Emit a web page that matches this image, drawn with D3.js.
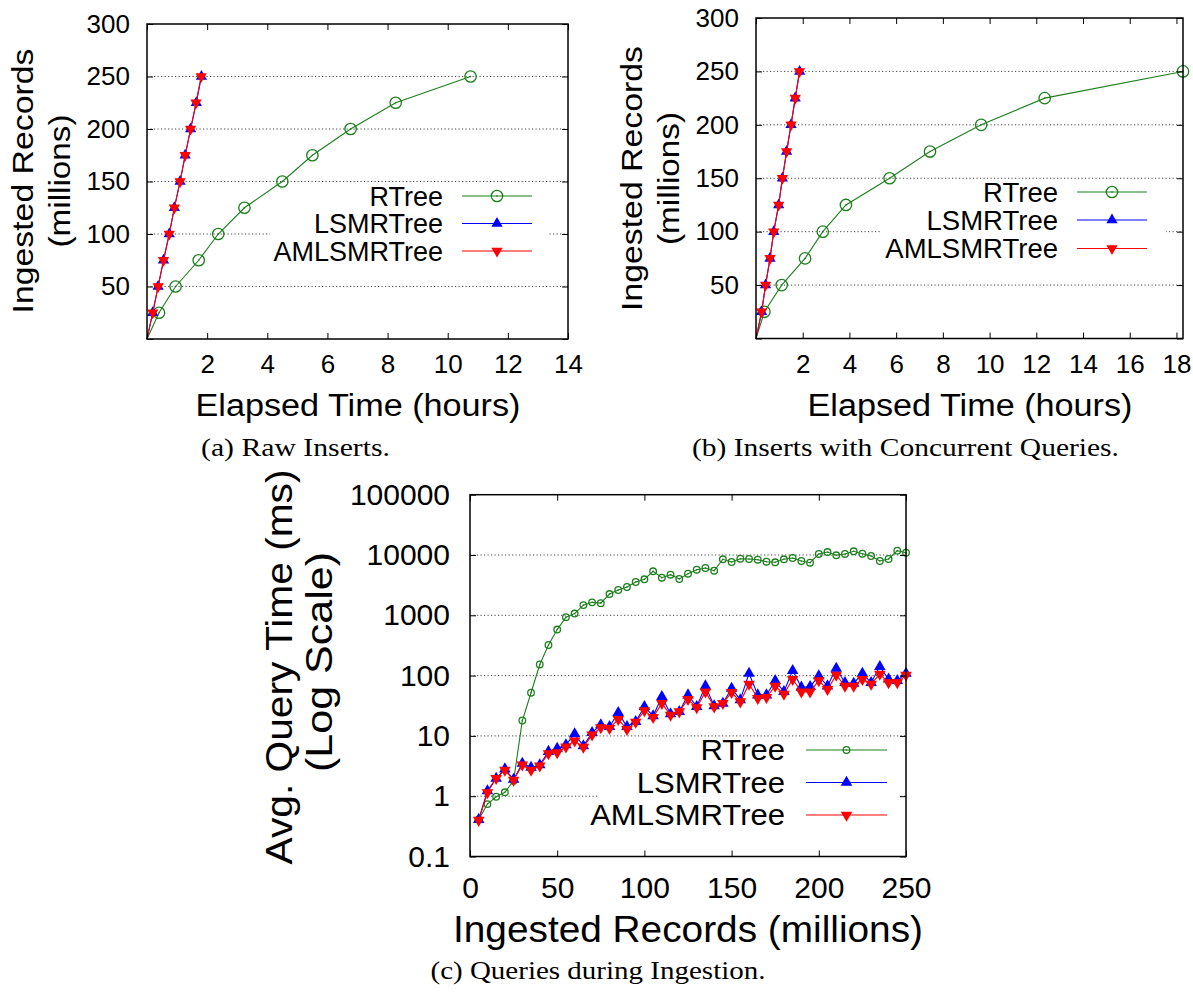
<!DOCTYPE html>
<html>
<head>
<meta charset="utf-8">
<script src="https://cdn.jsdelivr.net/npm/d3@7"></script>
<style>
  body { margin: 0; background: #fff; }
  svg { display: block; }
</style>
</head>
<body>
<script>
// ---- (a) Raw inserts: elapsed hours needed to reach each record count ----
const recordsA      = [0, 25, 50, 75, 100, 125, 150, 175, 200, 225, 250];
const rtreeHoursA   = [0, 0.40, 0.95, 1.72, 2.37, 3.24, 4.50, 5.50, 6.77, 8.27, 10.76];
const lsmHoursA     = [0, 0.19, 0.37, 0.55, 0.74, 0.91, 1.10, 1.27, 1.45, 1.64, 1.81];
const amlHoursA     = [0, 0.19, 0.37, 0.55, 0.74, 0.91, 1.10, 1.27, 1.45, 1.63, 1.80];

// ---- (b) Inserts with concurrent queries ----
const recordsB      = [0, 25, 50, 75, 100, 125, 150, 175, 200, 225, 250];
const rtreeHoursB   = [0, 0.36, 1.10, 2.10, 2.86, 3.85, 5.72, 7.45, 9.64, 12.36, 18.28];
const lsmHoursB     = [0, 0.24, 0.41, 0.60, 0.76, 0.97, 1.13, 1.31, 1.50, 1.68, 1.87];
const amlHoursB     = [0, 0.24, 0.41, 0.60, 0.76, 0.97, 1.13, 1.31, 1.50, 1.68, 1.86];

// ---- (c) Average query time (ms) while ingesting ----
const recordsC = d3.range(5, 251, 5);   // 5, 10, ..., 250 million records
const rtreeMsC = [0.41, 0.74, 0.98, 1.16, 1.8, 18, 52, 153, 322, 580,
                  932, 1070, 1475, 1640, 1590, 2250, 2627, 2946, 3566, 3954,
                  5370, 4204, 4711, 4000, 4898, 5703, 6085, 5490, 8490, 7650,
                  8680, 8590, 8360, 7740, 7570, 8490, 8920, 7950, 7450, 10400,
                  11200, 9890, 10400, 11520, 10500, 9620, 7950, 8590, 11800, 10900];
const lsmMsC   = [0.41, 1.22, 1.98, 2.82, 1.9, 3.5, 3.0, 3.3, 5.5, 6.2,
                  7.1, 10.8, 6.8, 11.3, 15.2, 14.2, 24.3, 14.2, 17.2, 30.5,
                  21.4, 44.7, 23.1, 25.2, 47.6, 30.5, 67.1, 31.3, 34.7, 61.5,
                  39.5, 109, 47.6, 47.6, 82.4, 54, 121, 64, 65.5, 98.5,
                  67.1, 132, 76.3, 74.5, 109, 76.3, 141, 86.9, 82.4, 109];
const amlMsC   = [0.40, 1.15, 1.98, 2.7, 1.85, 3.3, 2.7, 3.2, 5.1, 5.3,
                  6.6, 8.3, 6.5, 10.4, 13.7, 13.4, 18.8, 12.9, 16.9, 26.2,
                  20.3, 34.7, 22.2, 25.2, 40.5, 29.4, 54, 30.5, 34.7, 52.8,
                  36.9, 72.6, 42.1, 43.7, 67.1, 49.5, 86.9, 54, 54, 82.4,
                  59.3, 102, 67.1, 67.1, 86.9, 72.6, 106, 76.3, 76.3, 102];

// ---- ticks and labels ----
const seriesNames   = ["RTree", "LSMRTree", "AMLSMRTree"];
const hourTicksA    = [0, 2, 4, 6, 8, 10, 12, 14];
const hourTicksB    = [0, 2, 4, 6, 8, 10, 12, 14, 16, 18];
const recordTicksAB = [0, 50, 100, 150, 200, 250, 300];
const recordTicksC  = [0, 50, 100, 150, 200, 250];
const msTicksC      = [0.1, 1, 10, 100, 1000, 10000, 100000];
const captions      = ["(a) Raw Inserts.", "(b) Inserts with Concurrent Queries.", "(c) Queries during Ingestion."];

const COLORS = { RTree: "#1c7f1c", LSMRTree: "#0000ff", AMLSMRTree: "#ff0000" };
const SANS = "'Liberation Sans', Arial, Helvetica, sans-serif";
const SERIF = "'Liberation Serif', 'Times New Roman', serif";

const svg = d3.select("body").append("svg")
  .attr("width", 1193).attr("height", 995)
  .style("background", "#fff");

function marker(g, kind, cx, cy, color, s) {
  if (kind === "circle") {
    g.append("circle").attr("cx", cx).attr("cy", cy).attr("r", s.r)
      .attr("fill", "none").attr("stroke", color).attr("stroke-width", 1.3);
    g.append("circle").attr("cx", cx).attr("cy", cy).attr("r", 0.8).attr("fill", color);
  } else {
    const sym = d3.symbol().type(d3.symbolTriangle).size(s.tri);
    g.append("path").attr("d", sym())
      .attr("transform", `translate(${cx},${cy})` + (kind === "down" ? " rotate(180)" : ""))
      .attr("fill", color);
  }
}

function drawPanel(p) {
  const g = svg.append("g");
  const { x, y } = p;
  const [xl, xr] = x.range();
  const [yb, yt] = y.range();

  // horizontal dotted grid
  g.append("g").selectAll("line").data(p.grid).join("line")
    .attr("x1", xl).attr("x2", xr)
    .attr("y1", d => y(d)).attr("y2", d => y(d))
    .attr("stroke", "#444").attr("stroke-width", 1)
    .attr("stroke-dasharray", "1.2,2.3");

  // opaque key background
  const k = p.key;
  g.append("rect").attr("x", k.box[0]).attr("y", k.box[1])
    .attr("width", k.box[2] - k.box[0]).attr("height", k.box[3] - k.box[1])
    .attr("fill", "#fff");

  // series: line first, then its point markers
  p.series.forEach(s => {
    const pts = s.xs.map((v, i) => [v, s.ys[i]]);
    g.append("path").datum(pts)
      .attr("d", d3.line().x(d => x(d[0])).y(d => y(d[1])))
      .attr("fill", "none").attr("stroke", COLORS[s.name]).attr("stroke-width", 1.1);
    const mg = g.append("g");
    pts.forEach(d => {
      if (p.skipZero && d[0] === 0 && d[1] === 0) return;
      marker(mg, s.kind, x(d[0]), y(d[1]), COLORS[s.name], p.mk);
    });
  });

  // key entries
  p.series.forEach((s, i) => {
    const ry = k.rows[i];
    const t = g.append("text").attr("x", k.textRight).attr("y", ry)
      .attr("dy", "0.36em").attr("text-anchor", "end")
      .attr("font-family", SANS).attr("font-size", k.font).attr("fill", "#000")
      .text(s.name);
    if (k.stretch) {
      const w = t.node().getComputedTextLength();
      t.attr("textLength", w * k.stretch).attr("lengthAdjust", "spacingAndGlyphs");
    }
    g.append("line").attr("x1", k.sample[0]).attr("x2", k.sample[1])
      .attr("y1", ry).attr("y2", ry)
      .attr("stroke", COLORS[s.name]).attr("stroke-width", 1.1);
    marker(g, s.kind, (k.sample[0] + k.sample[1]) / 2, ry, COLORS[s.name], p.mk);
  });

  // frame
  g.append("rect").attr("x", xl).attr("y", yt)
    .attr("width", xr - xl).attr("height", yb - yt)
    .attr("fill", "none").attr("stroke", "#000").attr("stroke-width", 1.5);

  const styleAxis = (sel, size) => {
    sel.select(".domain").remove();
    sel.selectAll(".tick line").attr("stroke", "#000").attr("stroke-width", 1);
    sel.selectAll("text").attr("font-family", SANS).attr("font-size", size).attr("fill", "#000");
  };

  g.append("g").attr("transform", `translate(0,${yb})`)
    .call(d3.axisBottom(x).tickValues(p.xTicks).tickSize(-p.tick).tickPadding(p.xPad).tickFormat(p.xFmt))
    .call(s => styleAxis(s, p.tickFont));
  g.append("g").attr("transform", `translate(0,${yt})`)
    .call(d3.axisTop(x).tickValues(p.xTicks).tickSize(-p.tick).tickFormat(""))
    .call(s => styleAxis(s, p.tickFont));
  g.append("g").attr("transform", `translate(${xl},0)`)
    .call(d3.axisLeft(y).tickValues(p.yTicks).tickSize(-p.tick).tickPadding(p.yPad).tickFormat(p.yFmt))
    .call(s => styleAxis(s, p.tickFont));
  g.append("g").attr("transform", `translate(${xr},0)`)
    .call(d3.axisRight(y).tickValues(p.yTicks).tickSize(-p.tick).tickFormat(""))
    .call(s => styleAxis(s, p.tickFont));

  // axis titles
  p.yTitles.forEach(t => {
    g.append("text")
      .attr("transform", `translate(${t.x},${t.y}) rotate(-90)`)
      .attr("text-anchor", "middle")
      .attr("font-family", SANS).attr("font-size", t.font).attr("fill", "#000")
      .attr("textLength", t.len).attr("lengthAdjust", "spacingAndGlyphs")
      .text(t.text);
  });
  g.append("text").attr("x", p.xTitle.x).attr("y", p.xTitle.y)
    .attr("text-anchor", "middle")
    .attr("font-family", SANS).attr("font-size", p.xTitle.font).attr("fill", "#000")
    .attr("textLength", p.xTitle.len).attr("lengthAdjust", "spacingAndGlyphs")
    .text(p.xTitle.text);

  // sub-figure caption
  g.append("text").attr("x", p.caption.x).attr("y", p.caption.y)
    .attr("text-anchor", "middle")
    .attr("font-family", SERIF).attr("font-size", 25).attr("fill", "#000")
    .attr("textLength", p.caption.len).attr("lengthAdjust", "spacingAndGlyphs")
    .text(p.caption.text);
}

const hideZero = d => (d === 0 ? "" : d);

// (a)
drawPanel({
  x: d3.scaleLinear().domain([0, 14]).range([147, 568]),
  y: d3.scaleLinear().domain([0, 300]).range([339, 24]),
  grid: [50, 100, 150, 200, 250],
  xTicks: hourTicksA, yTicks: recordTicksAB,
  xFmt: hideZero, yFmt: hideZero,
  tick: 6, xPad: 16, yPad: 17, tickFont: 26,
  skipZero: true,
  mk: { r: 5.7, tri: 55 },
  series: [
    { name: seriesNames[0], kind: "circle", xs: rtreeHoursA, ys: recordsA },
    { name: seriesNames[1], kind: "up",     xs: lsmHoursA,   ys: recordsA },
    { name: seriesNames[2], kind: "down",   xs: amlHoursA,   ys: recordsA }
  ],
  key: { textRight: 443, sample: [462, 532], rows: [196, 223.5, 251], font: 27,
         box: [270, 184, 549, 265] },
  yTitles: [
    { text: "Ingested Records", x: 33, y: 181, font: 30, len: 265 },
    { text: "(millions)",       x: 70, y: 181, font: 30, len: 133 }
  ],
  xTitle: { text: "Elapsed Time (hours)", x: 358, y: 416, font: 31, len: 325 },
  caption: { text: captions[0], x: 295.5, y: 456, len: 189 }
});

// (b)
drawPanel({
  x: d3.scaleLinear().domain([0, d3.max(rtreeHoursB)]).range([756, 1183]),
  y: d3.scaleLinear().domain([0, 300]).range([338.5, 18]),
  grid: [50, 100, 150, 200, 250],
  xTicks: hourTicksB, yTicks: recordTicksAB,
  xFmt: hideZero, yFmt: hideZero,
  tick: 6, xPad: 16, yPad: 17, tickFont: 26,
  skipZero: true,
  mk: { r: 5.7, tri: 55 },
  series: [
    { name: seriesNames[0], kind: "circle", xs: rtreeHoursB, ys: recordsB },
    { name: seriesNames[1], kind: "up",     xs: lsmHoursB,   ys: recordsB },
    { name: seriesNames[2], kind: "down",   xs: amlHoursB,   ys: recordsB }
  ],
  key: { textRight: 1058, sample: [1077, 1147], rows: [192, 220, 248.5], font: 27.5,
         box: [881, 180, 1166, 262] },
  yTitles: [
    { text: "Ingested Records", x: 642, y: 178.5, font: 30, len: 265 },
    { text: "(millions)",       x: 679, y: 178.5, font: 30, len: 133 }
  ],
  xTitle: { text: "Elapsed Time (hours)", x: 970, y: 416, font: 31, len: 325 },
  caption: { text: captions[1], x: 905.5, y: 456, len: 427 }
});

// (c)
drawPanel({
  x: d3.scaleLinear().domain([0, 250]).range([470, 906]),
  y: d3.scaleLog().domain([0.1, 100000]).range([856.5, 494.7]),
  grid: [1, 10, 100, 1000, 10000],
  xTicks: recordTicksC, yTicks: msTicksC,
  xFmt: d => d, yFmt: d => (d < 1 ? String(d) : d3.format("d")(d)),
  tick: 6, xPad: 20, yPad: 20, tickFont: 30,
  skipZero: false,
  mk: { r: 3.3, tri: 58 },
  series: [
    { name: seriesNames[0], kind: "circle", xs: recordsC, ys: rtreeMsC },
    { name: seriesNames[1], kind: "up",     xs: recordsC, ys: lsmMsC },
    { name: seriesNames[2], kind: "down",   xs: recordsC, ys: amlMsC }
  ],
  key: { textRight: 785, sample: [806, 887], rows: [750, 782.5, 815], font: 29, stretch: 1.07,
         box: [597, 738, 899, 830] },
  yTitles: [
    { text: "Avg. Query Time (ms)", x: 291.5, y: 667, font: 36, len: 395 },
    { text: "(Log Scale)",          x: 332,   y: 662, font: 36, len: 220 }
  ],
  xTitle: { text: "Ingested Records (millions)", x: 688, y: 942, font: 37, len: 470 },
  caption: { text: captions[2], x: 598, y: 979, len: 335 }
});
</script>
</body>
</html>
